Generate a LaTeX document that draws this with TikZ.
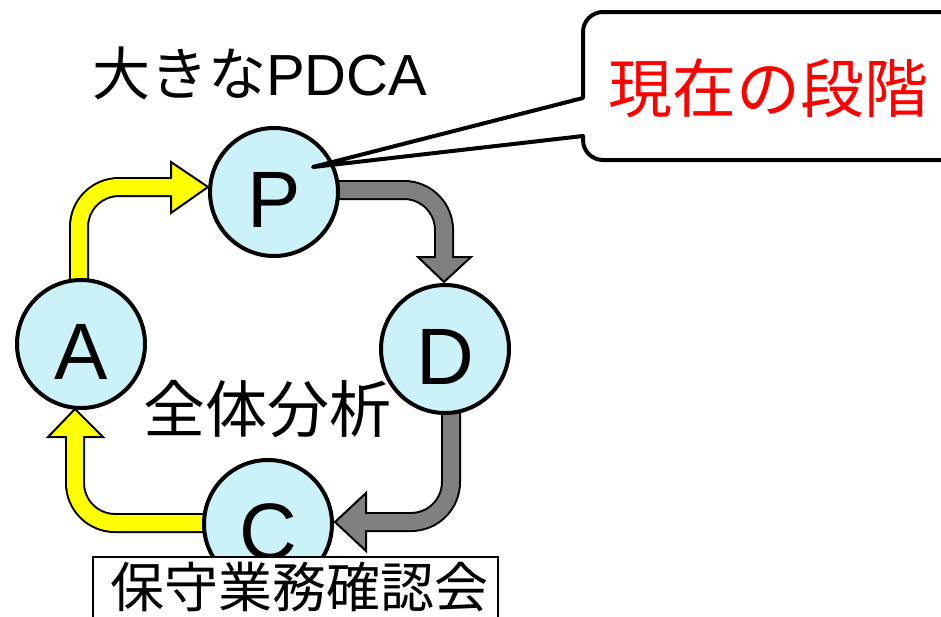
\documentclass[tikz,border=0pt]{standalone}
\usepackage{fontspec}
\setmainfont{Liberation Sans}
\newfontfamily\jp{Noto Sans CJK JP}
\usetikzlibrary{calc,backgrounds}
\definecolor{cfill}{RGB}{202,242,248}
\definecolor{arrgray}{RGB}{128,128,128}
\definecolor{arryel}{RGB}{255,255,0}
\tikzset{
  phase/.style={circle, draw=black, line width=4pt, fill=cfill, minimum size=128pt, inner sep=0pt},
  letter/.style={inner sep=0pt, font=\fontsize{80}{80}\selectfont},
  shaftout/.style={line width=20pt, draw=black, rounded corners=40pt},
  shaftin/.style={line width=16pt, rounded corners=40pt},
  headbox/.style={line width=2pt, draw=black, line join=miter},
}
\begin{document}
\begin{tikzpicture}[x=1pt,y=-1pt]
\path[use as bounding box, clip] (0,0) rectangle (941,616);

% circles
\node[phase] (P) at (274,192) {};
\node[phase] (A) at (81,344) {};
\node[phase] (D) at (445,349) {};
\node[phase] (C) at (268,524) {};

\begin{pgfonlayer}{background}
% yellow A -> P
\coordinate (apB) at (171,187);
\coordinate (apT) at (208,187);
\draw[shaftout] ($(A.center)+(-2,0)$) |- (apB);
\filldraw[headbox, fill=arryel] (171,162) -- (apT) -- (171,213) -- cycle;
\draw[shaftin, draw=arryel] ($(A.center)+(-2,0)$) |- ($(apB)+(3,0)$);
% gray P -> D
\coordinate (pdB) at (444,257);
\coordinate (pdT) at (444,282);
\draw[shaftout] ($(P.center)+(0,-2)$) -| (pdB);
\filldraw[headbox, fill=arrgray] (418,257) -- (pdT) -- (471,257) -- cycle;
\draw[shaftin, draw=arrgray] ($(P.center)+(0,-2)$) -| ($(pdB)+(0,3)$);
% gray D -> C
\coordinate (dcB) at (366,522);
\coordinate (dcT) at (335,522);
\draw[shaftout] ($(D.center)+(6,0)$) |- (dcB);
\filldraw[headbox, fill=arrgray] (366,493) -- (dcT) -- (366,551) -- cycle;
\draw[shaftin, draw=arrgray] ($(D.center)+(6,0)$) |- ($(dcB)+(-3,0)$);
% yellow C -> A
\coordinate (caB) at (75,437);
\coordinate (caT) at (75,409);
\draw[shaftout] ($(C.center)+(0,-1)$) -| (caB);
\filldraw[headbox, fill=arryel] (48,437) -- (caT) -- (103,437) -- cycle;
\draw[shaftin, draw=arryel] ($(C.center)+(0,-1)$) -| ($(caB)+(0,-3)$);
\end{pgfonlayer}

% letters
\node[letter] (Pl) at ([yshift=-8pt]P.center) {P};
\node[letter] (Al) at ([yshift=-8pt]A.center) {A};
\node[letter] (Dl) at ([yshift=-8pt]D.center) {D};
\node[letter] (Cl) at ([yshift=-8pt]C.center) {C};

% titles
\node[anchor=base west, inner sep=0pt, font=\fontsize{58}{58}\selectfont] (title) at (92,95) {{\jp 大きな}PDCA};
\node[inner sep=0pt, font=\jp\fontsize{62}{62}\selectfont] (whole) at (267.5,409) {全体分析};

% box at bottom
\node[draw=black, line width=1.5pt, fill=white, anchor=north west, minimum width=405pt, minimum height=90pt, inner sep=0pt] (box) at (92,556) {};
\node[inner sep=0pt, font=\jp\fontsize{54}{54}\selectfont] (boxtext) at (299,587) {保守業務確認会};

% callout
\coordinate (tip) at (313,167);
\draw[line width=4pt, fill=white, line join=round] (tip) -- (583,98) -- (583,32)
  arc[start angle=180, end angle=270, radius=20] -- (990,12) -- (990,160) -- (603,160)
  arc[start angle=90, end angle=180, radius=20] -- (583,136) -- cycle;
\node[inner sep=0pt, text=red, font=\jp\fontsize{64}{64}\selectfont] (now) at (768,88) {現在の段階};
\end{tikzpicture}
\end{document}
